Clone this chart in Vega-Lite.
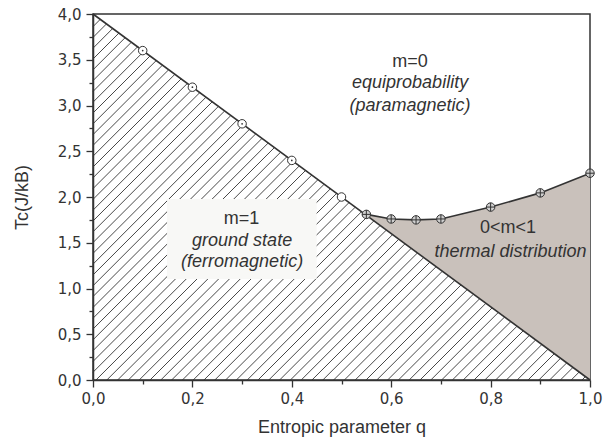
{
  "$schema": "https://vega.github.io/schema/vega-lite/v6.json",
  "width": 497,
  "height": 366,
  "autosize": {"type": "none"},
  "padding": {"left": 93, "top": 14, "right": 13, "bottom": 65},
  "background": "white",
  "config": {
    "view": {"stroke": "#333333", "strokeWidth": 1.5},
    "axis": {"grid": false, "labelFlush": false, "labelOverlap": false, "tickColor": "#333333", "tickWidth": 1.3, "domainColor": "#333333", "domainWidth": 1.5, "labelFont": "DejaVu Sans", "labelFontSize": 15, "labelColor": "#333333", "titleFont": "Liberation Sans", "titleFontSize": 18, "titleFontWeight": "normal", "titleColor": "#333333"}
  },
  "datasets": {
    "hatch": [
      {"q1": 0, "T1": 3.980, "q2": 0.0021, "T2": 3.9917},
      {"q1": 0, "T1": 3.862, "q2": 0.0146, "T2": 3.9416},
      {"q1": 0, "T1": 3.744, "q2": 0.0271, "T2": 3.8915},
      {"q1": 0, "T1": 3.626, "q2": 0.0396, "T2": 3.8415},
      {"q1": 0, "T1": 3.508, "q2": 0.0521, "T2": 3.7914},
      {"q1": 0, "T1": 3.390, "q2": 0.0647, "T2": 3.7414},
      {"q1": 0, "T1": 3.272, "q2": 0.0772, "T2": 3.6913},
      {"q1": 0, "T1": 3.154, "q2": 0.0897, "T2": 3.6413},
      {"q1": 0, "T1": 3.036, "q2": 0.1022, "T2": 3.5912},
      {"q1": 0, "T1": 2.918, "q2": 0.1147, "T2": 3.5411},
      {"q1": 0, "T1": 2.800, "q2": 0.1272, "T2": 3.4911},
      {"q1": 0, "T1": 2.682, "q2": 0.1397, "T2": 3.4410},
      {"q1": 0, "T1": 2.564, "q2": 0.1523, "T2": 3.3910},
      {"q1": 0, "T1": 2.446, "q2": 0.1648, "T2": 3.3409},
      {"q1": 0, "T1": 2.328, "q2": 0.1773, "T2": 3.2908},
      {"q1": 0, "T1": 2.210, "q2": 0.1898, "T2": 3.2408},
      {"q1": 0, "T1": 2.092, "q2": 0.2023, "T2": 3.1907},
      {"q1": 0, "T1": 1.974, "q2": 0.2148, "T2": 3.1407},
      {"q1": 0, "T1": 1.856, "q2": 0.2273, "T2": 3.0906},
      {"q1": 0, "T1": 1.738, "q2": 0.2399, "T2": 3.0406},
      {"q1": 0, "T1": 1.620, "q2": 0.2524, "T2": 2.9905},
      {"q1": 0, "T1": 1.502, "q2": 0.2649, "T2": 2.9404},
      {"q1": 0, "T1": 1.384, "q2": 0.2774, "T2": 2.8904},
      {"q1": 0, "T1": 1.266, "q2": 0.2899, "T2": 2.8403},
      {"q1": 0, "T1": 1.148, "q2": 0.3024, "T2": 2.7903},
      {"q1": 0, "T1": 1.030, "q2": 0.3149, "T2": 2.7402},
      {"q1": 0, "T1": 0.912, "q2": 0.3275, "T2": 2.6901},
      {"q1": 0, "T1": 0.793, "q2": 0.3400, "T2": 2.6401},
      {"q1": 0, "T1": 0.675, "q2": 0.3525, "T2": 2.5900},
      {"q1": 0, "T1": 0.557, "q2": 0.3650, "T2": 2.5400},
      {"q1": 0, "T1": 0.439, "q2": 0.3775, "T2": 2.4899},
      {"q1": 0, "T1": 0.321, "q2": 0.3900, "T2": 2.4399},
      {"q1": 0, "T1": 0.203, "q2": 0.4026, "T2": 2.3898},
      {"q1": 0, "T1": 0.085, "q2": 0.4151, "T2": 2.3397},
      {"q1": 0.0060, "T1": 0, "q2": 0.4276, "T2": 2.2897},
      {"q1": 0.0278, "T1": 0, "q2": 0.4401, "T2": 2.2396},
      {"q1": 0.0495, "T1": 0, "q2": 0.4526, "T2": 2.1896},
      {"q1": 0.0712, "T1": 0, "q2": 0.4651, "T2": 2.1395},
      {"q1": 0.0930, "T1": 0, "q2": 0.4776, "T2": 2.0895},
      {"q1": 0.1147, "T1": 0, "q2": 0.4902, "T2": 2.0394},
      {"q1": 0.1364, "T1": 0, "q2": 0.5027, "T2": 1.9893},
      {"q1": 0.1582, "T1": 0, "q2": 0.5152, "T2": 1.9393},
      {"q1": 0.1799, "T1": 0, "q2": 0.5277, "T2": 1.8892},
      {"q1": 0.2016, "T1": 0, "q2": 0.5402, "T2": 1.8392},
      {"q1": 0.2233, "T1": 0, "q2": 0.5527, "T2": 1.7891},
      {"q1": 0.2451, "T1": 0, "q2": 0.5652, "T2": 1.7391},
      {"q1": 0.2668, "T1": 0, "q2": 0.5778, "T2": 1.6890},
      {"q1": 0.2885, "T1": 0, "q2": 0.5903, "T2": 1.6389},
      {"q1": 0.3103, "T1": 0, "q2": 0.6028, "T2": 1.5889},
      {"q1": 0.3320, "T1": 0, "q2": 0.6153, "T2": 1.5388},
      {"q1": 0.3537, "T1": 0, "q2": 0.6278, "T2": 1.4888},
      {"q1": 0.3755, "T1": 0, "q2": 0.6403, "T2": 1.4387},
      {"q1": 0.3972, "T1": 0, "q2": 0.6528, "T2": 1.3886},
      {"q1": 0.4189, "T1": 0, "q2": 0.6654, "T2": 1.3386},
      {"q1": 0.4406, "T1": 0, "q2": 0.6779, "T2": 1.2885},
      {"q1": 0.4624, "T1": 0, "q2": 0.6904, "T2": 1.2385},
      {"q1": 0.4841, "T1": 0, "q2": 0.7029, "T2": 1.1884},
      {"q1": 0.5058, "T1": 0, "q2": 0.7154, "T2": 1.1384},
      {"q1": 0.5276, "T1": 0, "q2": 0.7279, "T2": 1.0883},
      {"q1": 0.5493, "T1": 0, "q2": 0.7404, "T2": 1.0382},
      {"q1": 0.5710, "T1": 0, "q2": 0.7530, "T2": 0.9882},
      {"q1": 0.5928, "T1": 0, "q2": 0.7655, "T2": 0.9381},
      {"q1": 0.6145, "T1": 0, "q2": 0.7780, "T2": 0.8881},
      {"q1": 0.6362, "T1": 0, "q2": 0.7905, "T2": 0.8380},
      {"q1": 0.6580, "T1": 0, "q2": 0.8030, "T2": 0.7880},
      {"q1": 0.6797, "T1": 0, "q2": 0.8155, "T2": 0.7379},
      {"q1": 0.7014, "T1": 0, "q2": 0.8280, "T2": 0.6878},
      {"q1": 0.7231, "T1": 0, "q2": 0.8406, "T2": 0.6378},
      {"q1": 0.7449, "T1": 0, "q2": 0.8531, "T2": 0.5877},
      {"q1": 0.7666, "T1": 0, "q2": 0.8656, "T2": 0.5376},
      {"q1": 0.7883, "T1": 0, "q2": 0.8781, "T2": 0.4876},
      {"q1": 0.8101, "T1": 0, "q2": 0.8906, "T2": 0.4376},
      {"q1": 0.8318, "T1": 0, "q2": 0.9031, "T2": 0.3875},
      {"q1": 0.8535, "T1": 0, "q2": 0.9156, "T2": 0.3374},
      {"q1": 0.8753, "T1": 0, "q2": 0.9282, "T2": 0.2874},
      {"q1": 0.8970, "T1": 0, "q2": 0.9407, "T2": 0.2373},
      {"q1": 0.9187, "T1": 0, "q2": 0.9532, "T2": 0.1872},
      {"q1": 0.9404, "T1": 0, "q2": 0.9657, "T2": 0.1372},
      {"q1": 0.9622, "T1": 0, "q2": 0.9782, "T2": 0.0871},
      {"q1": 0.9839, "T1": 0, "q2": 0.9907, "T2": 0.0371}
    ],
    "box": [{"q1": 0.149, "q2": 0.450, "T1": 1.104, "T2": 1.978}],
    "region": [
      {"q": 0.55, "T": 1.81, "L": 1.80},
      {"q": 0.60, "T": 1.76, "L": 1.60},
      {"q": 0.65, "T": 1.75, "L": 1.40},
      {"q": 0.70, "T": 1.76, "L": 1.20},
      {"q": 0.80, "T": 1.89, "L": 0.80},
      {"q": 0.90, "T": 2.045, "L": 0.40},
      {"q": 1.00, "T": 2.26, "L": 0.00}
    ],
    "diag": [{"q": 0, "T": 4}, {"q": 1, "T": 0}],
    "points": [
      {"q": 0.1, "T": 3.6, "kind": "dot"},
      {"q": 0.2, "T": 3.2, "kind": "dot"},
      {"q": 0.3, "T": 2.8, "kind": "dot"},
      {"q": 0.4, "T": 2.4, "kind": "dot"},
      {"q": 0.5, "T": 2.0, "kind": "open"},
      {"q": 0.55, "T": 1.81, "kind": "plus"},
      {"q": 0.60, "T": 1.76, "kind": "plus"},
      {"q": 0.65, "T": 1.75, "kind": "plus"},
      {"q": 0.70, "T": 1.76, "kind": "plus"},
      {"q": 0.80, "T": 1.89, "kind": "plus"},
      {"q": 0.90, "T": 2.045, "kind": "plus"},
      {"q": 1.00, "T": 2.26, "kind": "plus"}
    ],
    "labels": [
      {"q": 0.638, "T": 3.48, "text": "m=0", "role": "head"},
      {"q": 0.638, "T": 3.243, "text": "equiprobability", "role": "desc"},
      {"q": 0.638, "T": 2.998, "text": "(paramagnetic)", "role": "desc"},
      {"q": 0.299, "T": 1.76, "text": "m=1", "role": "head"},
      {"q": 0.300, "T": 1.519, "text": "ground state", "role": "desc"},
      {"q": 0.300, "T": 1.29, "text": "(ferromagnetic)", "role": "desc"},
      {"q": 0.835, "T": 1.658, "text": "0<m<1", "role": "head"},
      {"q": 0.840, "T": 1.402, "text": "thermal distribution", "role": "desc"}
    ]
  },
  "layer": [
    {
      "data": {"name": "hatch"},
      "mark": {"type": "rule", "stroke": "#333333", "strokeWidth": 0.9},
      "encoding": {
        "x": {"field": "q1", "type": "quantitative", "scale": {"domain": [0, 1], "nice": false, "zero": false},
          "axis": {"orient": "bottom", "values": [0, 0.2, 0.4, 0.6, 0.8, 1.0], "labelExpr": "replace(format(datum.value, '.1f'), '.', ',')", "tickSize": 7, "labelPadding": 4, "title": "Entropic parameter q", "titlePadding": 12}},
        "y": {"field": "T1", "type": "quantitative", "scale": {"domain": [0, 4], "nice": false, "zero": false},
          "axis": {"orient": "left", "values": [0, 0.5, 1, 1.5, 2, 2.5, 3, 3.5, 4], "labelExpr": "replace(format(datum.value, '.1f'), '.', ',')", "tickSize": 7, "labelPadding": 5, "title": "Tc(J/kB)", "titlePadding": 26}},
        "x2": {"field": "q2"},
        "y2": {"field": "T2"}
      }
    },
    {
      "data": {"name": "box"},
      "mark": {"type": "rect", "fill": "#f8f8f6", "stroke": null},
      "encoding": {
        "x": {"field": "q1", "type": "quantitative", "axis": null},
        "x2": {"field": "q2"},
        "y": {"field": "T1", "type": "quantitative", "axis": null},
        "y2": {"field": "T2"}
      }
    },
    {
      "data": {"name": "region"},
      "mark": {"type": "area", "fill": "#c9c1bb", "opacity": 1},
      "encoding": {
        "x": {"field": "q", "type": "quantitative", "axis": null},
        "y": {"field": "T", "type": "quantitative", "axis": null},
        "y2": {"field": "L"}
      }
    },
    {
      "data": {"name": "diag"},
      "mark": {"type": "line", "stroke": "#333333", "strokeWidth": 1.6},
      "encoding": {
        "x": {"field": "q", "type": "quantitative",
          "axis": {"orient": "bottom", "values": [0.1, 0.3, 0.5, 0.7, 0.9], "labels": false, "domain": false, "tickSize": 4, "title": null}},
        "y": {"field": "T", "type": "quantitative",
          "axis": {"orient": "left", "values": [0.25, 0.75, 1.25, 1.75, 2.25, 2.75, 3.25, 3.75], "labels": false, "domain": false, "tickSize": 4, "title": null}}
      }
    },
    {
      "data": {"name": "region"},
      "mark": {"type": "line", "stroke": "#333333", "strokeWidth": 1.6},
      "encoding": {
        "x": {"field": "q", "type": "quantitative", "axis": null},
        "y": {"field": "T", "type": "quantitative", "axis": null}
      }
    },
    {
      "data": {"name": "points"},
      "mark": {"type": "point", "shape": "circle", "size": 72, "filled": false, "stroke": "#333333", "strokeWidth": 1, "opacity": 1},
      "encoding": {
        "x": {"field": "q", "type": "quantitative", "axis": null},
        "y": {"field": "T", "type": "quantitative", "axis": null},
        "fill": {"condition": {"test": "datum.kind === 'plus'", "value": "#cfcfcf"}, "value": "white"}
      }
    },
    {
      "data": {"name": "points"},
      "transform": [{"filter": "datum.kind === 'dot'"}],
      "mark": {"type": "point", "shape": "circle", "size": 3, "filled": true, "color": "#333333", "opacity": 1},
      "encoding": {
        "x": {"field": "q", "type": "quantitative", "axis": null},
        "y": {"field": "T", "type": "quantitative", "axis": null}
      }
    },
    {
      "data": {"name": "points"},
      "transform": [{"filter": "datum.kind === 'plus'"}],
      "mark": {"type": "point", "shape": "M-1,0L1,0M0,-1L0,1", "size": 72, "filled": false, "stroke": "#333333", "strokeWidth": 1, "opacity": 1},
      "encoding": {
        "x": {"field": "q", "type": "quantitative", "axis": null},
        "y": {"field": "T", "type": "quantitative", "axis": null}
      }
    },
    {
      "data": {"name": "labels"},
      "transform": [{"filter": "datum.role === 'head'"}],
      "mark": {"type": "text", "font": "Liberation Sans", "fontSize": 18, "color": "#333333", "align": "center", "baseline": "middle"},
      "encoding": {
        "x": {"field": "q", "type": "quantitative", "axis": null},
        "y": {"field": "T", "type": "quantitative", "axis": null},
        "text": {"field": "text"}
      }
    },
    {
      "data": {"name": "labels"},
      "transform": [{"filter": "datum.role === 'desc'"}],
      "mark": {"type": "text", "font": "Liberation Sans", "fontSize": 18, "fontStyle": "italic", "color": "#333333", "align": "center", "baseline": "middle"},
      "encoding": {
        "x": {"field": "q", "type": "quantitative", "axis": null},
        "y": {"field": "T", "type": "quantitative", "axis": null},
        "text": {"field": "text"}
      }
    }
  ],
  "resolve": {"axis": {"x": "independent", "y": "independent"}}
}
